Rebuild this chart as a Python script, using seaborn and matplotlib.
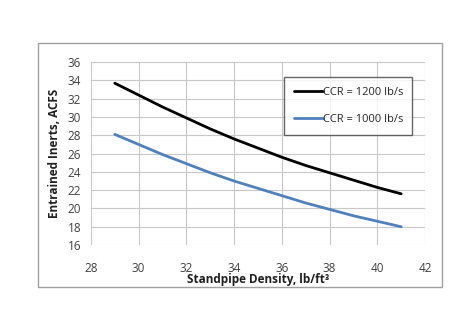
import matplotlib
matplotlib.use("Agg")
import matplotlib.pyplot as plt
import seaborn as sns
import pandas as pd
from matplotlib.patches import Rectangle

density = [29, 30, 31, 32, 33, 34, 35, 36, 37, 38, 39, 40, 41]
inerts_1200 = [33.7, 32.4, 31.1, 29.9, 28.7, 27.6, 26.6, 25.6, 24.7, 23.9, 23.1, 22.3, 21.6]
inerts_1000 = [28.1, 27.0, 25.9, 24.9, 23.9, 23.0, 22.2, 21.4, 20.6, 19.9, 19.2, 18.6, 18.0]
series_names = ["CCR = 1200 lb/s", "CCR = 1000 lb/s"]
x_ticks = [28, 30, 32, 34, 36, 38, 40, 42]
y_ticks = [16, 18, 20, 22, 24, 26, 28, 30, 32, 34, 36]

df = pd.concat([
    pd.DataFrame({"x": density, "y": inerts_1200, "s": series_names[0]}),
    pd.DataFrame({"x": density, "y": inerts_1000, "s": series_names[1]}),
])

sns.set_theme(style="white")
plt.rcParams["font.family"] = ["Open Sans", "DejaVu Sans"]

fig = plt.figure(figsize=(4.76, 3.22), dpi=100)
fig.patch.set_facecolor("white")
fig.add_artist(Rectangle((0.080, 0.109), 0.849, 0.757, transform=fig.transFigure,
                         fill=False, edgecolor="#a0a0a0", linewidth=1.0))
ax = fig.add_axes([0.191, 0.239, 0.702, 0.568])

sns.lineplot(data=df, x="x", y="y", hue="s", palette=["#000000", "#4f81bd"],
             linewidth=2.0, ax=ax, legend=True)

ax.set_xlim(28, 42)
ax.set_ylim(16, 36)
ax.set_xticks(x_ticks)
ax.set_yticks(y_ticks)
ax.grid(True, color="#c8c8c8", linewidth=0.8)
for s in ax.spines.values():
    s.set_visible(False)
ax.tick_params(axis="x", pad=12, labelsize=8.5, colors="#404040", length=0)
ax.tick_params(axis="y", pad=7, labelsize=8.5, colors="#404040", length=0)
ax.set_xlabel("Standpipe Density, lb/ft³", fontsize=8.5, fontweight="bold", labelpad=-1, color="#202020")
ax.set_ylabel("Entrained Inerts, ACFS", fontsize=8.5, fontweight="bold", labelpad=5, color="#202020")

leg = ax.legend(loc="upper left", bbox_to_anchor=(0.597, 0.575, 0.269, 0.186),
                bbox_transform=fig.transFigure, mode="expand", frameon=True, borderaxespad=0,
                fancybox=False, edgecolor="#404040", fontsize=8, handlelength=2.6,
                handletextpad=0.0, labelspacing=1.4, borderpad=0.9, title=None)
leg.get_frame().set_linewidth(1.0)

fig.savefig("out.png", dpi=100, facecolor="white")
